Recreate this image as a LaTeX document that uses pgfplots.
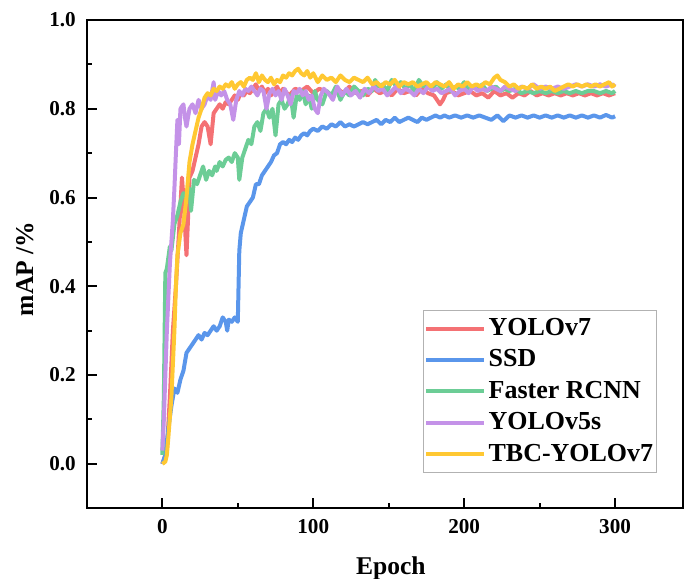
\documentclass[border=0pt]{standalone}
\usepackage{fontspec}
\setmainfont{Liberation Serif}
\usepackage{pgfplots}
\pgfplotsset{compat=1.18}

\definecolor{cred}{RGB}{244,113,116}
\definecolor{cblue}{RGB}{90,150,235}
\definecolor{cgreen}{RGB}{108,205,150}
\definecolor{cpurple}{RGB}{196,146,232}
\definecolor{cyellow}{RGB}{255,200,50}

\begin{document}
\begin{tikzpicture}
\begin{axis}[
scale only axis,
width=298.5pt, height=244.5pt,
xmin=-50, xmax=345,
ymin=-0.1, ymax=1.0,
xtick={0,100,200,300},
ytick={0,0.2,0.4,0.6,0.8,1.0},
minor x tick num=1,
minor y tick num=1,
tick align=inside,
xtick pos=bottom, ytick pos=left,
major tick length=5pt,
minor tick length=2.5pt,
axis line style={line width=1pt},
every tick/.style={black, line width=1pt},
/pgf/number format/assume math mode=true,
ticklabel style={font=\fontsize{10.6}{12}\selectfont\bfseries},
yticklabel style={xshift=-2pt, /pgf/number format/.cd, fixed, fixed zerofill, precision=1},
xticklabel style={yshift=-2.3pt},
xlabel={Epoch},
ylabel={mAP /\%},
label style={font=\fontsize{12.8}{15}\selectfont\bfseries},
xlabel style={at={(axis description cs:0.51,-0.135)}, anchor=base},
ylabel style={at={(axis description cs:-0.104,0.49)}, anchor=center},
every axis plot/.append style={line width=2pt, line join=round, mark=none},
legend style={at={(rel axis cs:0.9564,0.407)}, anchor=north east,
  draw=black!30, line width=0.5pt,
  font=\fontsize{13}{15}\selectfont\bfseries,
  nodes={inner xsep=1.2pt, inner ysep=1.2pt}, row sep=3.2pt, inner xsep=0.5pt, inner ysep=3pt},
legend cell align=left,
legend image code/.code={\draw[#1] (0pt,0pt) -- (29pt,0pt);},
]
% YOLOv7
\addplot[cred] coordinates {
(0,0.0)(1,0.01)(3,0.03)(5,0.15)(7,0.30)(9,0.40)(11,0.52)(13,0.645)(14,0.60)(16,0.47)(17,0.55)(18,0.645)
(20,0.66)(22,0.69)(24,0.72)(26,0.76)(28,0.77)(30,0.76)(32,0.72)(34,0.79)(36,0.80)(38,0.81)(40,0.80)
(42,0.815)(44,0.81)(46,0.82)(48,0.83)(50,0.82)(52,0.835)(54,0.83)(56,0.84)(58,0.835)(60,0.845)(62,0.855)
(64,0.84)(66,0.85)(68,0.835)(70,0.845)(72,0.83)(74,0.84)(76,0.85)(78,0.835)(80,0.845)(84,0.83)(88,0.845)
(92,0.84)(96,0.85)(100,0.835)(104,0.845)(108,0.84)(112,0.83)(116,0.845)(120,0.835)(124,0.85)(128,0.835)
(132,0.84)(136,0.83)(140,0.845)(144,0.835)(148,0.84)(152,0.83)(156,0.845)(160,0.835)(164,0.84)(168,0.83)
(172,0.845)(176,0.835)(180,0.83)(184,0.81)(186,0.82)(188,0.835)(192,0.84)(196,0.83)(200,0.835)(204,0.84)
(208,0.83)(212,0.835)(216,0.825)(220,0.84)(224,0.83)(228,0.835)(232,0.825)(236,0.835)(240,0.83)(244,0.84)
(248,0.83)(252,0.835)(256,0.83)(260,0.835)(264,0.83)(268,0.835)(272,0.83)(276,0.835)(280,0.83)(284,0.835)
(288,0.83)(292,0.835)(296,0.83)(300,0.835)
};
\addlegendentry{YOLOv7}
% SSD
\addplot[cblue] coordinates {
(0,0.00)(2,0.02)(4,0.08)(6,0.13)(8,0.17)(10,0.16)(12,0.19)(14,0.21)(16,0.25)(18,0.26)(20,0.27)(22,0.28)
(24,0.29)(26,0.28)(28,0.295)(30,0.29)(32,0.30)(34,0.31)(36,0.30)(38,0.31)(40,0.33)(42,0.32)(43,0.30)
(44,0.325)(46,0.32)(48,0.33)(50,0.32)(51,0.48)(52,0.52)(54,0.55)(56,0.58)(58,0.59)(60,0.60)(62,0.63)
(64,0.63)(66,0.65)(68,0.66)(70,0.67)(72,0.68)(74,0.695)(76,0.70)(78,0.72)(80,0.725)(82,0.72)(84,0.73)
(86,0.725)(88,0.735)(90,0.73)(92,0.74)(94,0.745)(96,0.74)(98,0.75)(100,0.755)(103,0.75)(106,0.76)
(109,0.755)(112,0.765)(115,0.76)(118,0.77)(121,0.76)(124,0.765)(127,0.76)(130,0.765)(133,0.77)(136,0.765)
(139,0.77)(142,0.775)(145,0.765)(148,0.775)(151,0.77)(154,0.78)(157,0.77)(160,0.775)(163,0.78)(166,0.775)
(169,0.77)(172,0.78)(175,0.775)(178,0.78)(181,0.785)(184,0.78)(187,0.785)(190,0.78)(194,0.785)(198,0.78)
(202,0.785)(206,0.78)(210,0.785)(214,0.78)(218,0.775)(222,0.785)(226,0.772)(230,0.785)(234,0.78)(238,0.785)
(242,0.78)(246,0.785)(250,0.78)(254,0.785)(258,0.78)(262,0.785)(266,0.78)(270,0.785)(274,0.78)(278,0.785)
(282,0.78)(286,0.785)(290,0.78)(294,0.786)(298,0.78)(300,0.783)
};
\addlegendentry{SSD}
% Faster RCNN
\addplot[cgreen] coordinates {
(0,0.02)(1,0.15)(2,0.43)(3,0.44)(5,0.49)(6,0.48)(8,0.54)(10,0.56)(12,0.59)(14,0.61)(16,0.60)(18,0.62)
(19,0.57)(21,0.64)(23,0.63)(25,0.65)(27,0.67)(29,0.64)(31,0.66)(33,0.65)(35,0.67)(36,0.66)(38,0.68)
(40,0.67)(42,0.685)(44,0.69)(46,0.68)(48,0.70)(50,0.69)(51,0.64)(53,0.69)(55,0.71)(57,0.73)(59,0.72)
(61,0.76)(63,0.77)(65,0.75)(67,0.79)(69,0.80)(71,0.78)(73,0.80)(75,0.74)(77,0.81)(79,0.82)(81,0.80)
(83,0.81)(85,0.83)(87,0.78)(89,0.83)(91,0.82)(93,0.84)(95,0.81)(97,0.83)(99,0.80)(101,0.84)(103,0.82)
(106,0.81)(109,0.84)(112,0.83)(115,0.85)(118,0.82)(121,0.84)(124,0.83)(127,0.85)(130,0.84)(133,0.83)
(136,0.845)(139,0.84)(141,0.865)(143,0.85)(146,0.855)(149,0.84)(152,0.865)(155,0.85)(158,0.86)(161,0.845)
(164,0.855)(167,0.84)(170,0.865)(173,0.85)(176,0.855)(179,0.845)(182,0.86)(185,0.845)(188,0.855)(191,0.84)
(194,0.85)(197,0.845)(200,0.86)(203,0.84)(206,0.85)(209,0.845)(212,0.855)(215,0.84)(218,0.845)(221,0.85)
(224,0.84)(227,0.845)(230,0.84)(234,0.845)(238,0.835)(242,0.84)(246,0.835)(250,0.84)(254,0.835)(258,0.84)
(262,0.835)(266,0.84)(270,0.835)(274,0.84)(278,0.835)(282,0.84)(286,0.84)(290,0.835)(294,0.84)(298,0.835)
(300,0.84)
};
\addlegendentry{Faster RCNN}
% YOLOv5s
\addplot[cpurple] coordinates {
(0,0.03)(1,0.10)(3,0.30)(5,0.45)(7,0.55)(8,0.62)(9,0.70)(10,0.775)(11,0.72)(12,0.80)(14,0.81)(15,0.78)
(16,0.76)(18,0.80)(20,0.81)(22,0.79)(24,0.82)(26,0.80)(28,0.81)(30,0.83)(32,0.82)(34,0.86)(35,0.82)
(37,0.84)(39,0.83)(41,0.84)(43,0.82)(45,0.81)(47,0.775)(49,0.82)(51,0.84)(53,0.83)(55,0.845)(57,0.84)
(59,0.85)(61,0.84)(63,0.83)(65,0.845)(67,0.84)(69,0.80)(71,0.835)(73,0.845)(75,0.83)(77,0.84)(79,0.82)
(81,0.845)(83,0.83)(85,0.81)(87,0.84)(89,0.835)(91,0.845)(93,0.83)(95,0.84)(97,0.82)(99,0.83)(101,0.80)
(103,0.79)(105,0.83)(107,0.845)(110,0.835)(113,0.82)(116,0.85)(119,0.83)(122,0.845)(125,0.83)(128,0.84)
(131,0.825)(134,0.845)(137,0.835)(140,0.85)(143,0.84)(146,0.845)(149,0.83)(152,0.84)(155,0.85)(158,0.835)
(161,0.845)(164,0.84)(167,0.83)(170,0.845)(173,0.835)(176,0.85)(179,0.84)(182,0.845)(185,0.835)(188,0.84)
(191,0.845)(194,0.83)(197,0.84)(200,0.845)(203,0.835)(206,0.85)(209,0.84)(212,0.845)(215,0.84)(218,0.85)
(221,0.845)(224,0.84)(227,0.85)(230,0.845)(234,0.84)(238,0.85)(242,0.845)(246,0.855)(250,0.845)(254,0.85)
(258,0.845)(262,0.85)(266,0.845)(270,0.85)(274,0.855)(278,0.85)(282,0.855)(286,0.85)(290,0.855)(294,0.85)
(298,0.855)(300,0.85)
};
\addlegendentry{YOLOv5s}
% TBC-YOLOv7
\addplot[cyellow] coordinates {
(0,0.0)(2,0.005)(3,0.02)(4,0.06)(6,0.15)(8,0.30)(9,0.40)(10,0.47)(12,0.52)(14,0.54)(16,0.60)(18,0.68)
(20,0.72)(22,0.75)(24,0.78)(26,0.80)(28,0.825)(30,0.835)(32,0.83)(34,0.845)(36,0.84)(38,0.85)(40,0.845)
(42,0.855)(44,0.85)(46,0.86)(48,0.845)(50,0.855)(52,0.86)(54,0.85)(56,0.865)(58,0.87)(60,0.865)(62,0.88)
(64,0.86)(66,0.875)(68,0.865)(70,0.86)(72,0.87)(74,0.855)(76,0.865)(78,0.86)(80,0.875)(82,0.87)(84,0.88)
(86,0.875)(88,0.885)(90,0.89)(92,0.88)(94,0.875)(96,0.885)(98,0.87)(100,0.88)(103,0.86)(106,0.875)
(109,0.865)(112,0.87)(115,0.86)(118,0.875)(121,0.865)(124,0.86)(127,0.87)(130,0.865)(133,0.86)(136,0.87)
(139,0.855)(142,0.86)(145,0.85)(148,0.86)(151,0.855)(154,0.865)(157,0.85)(160,0.86)(163,0.855)(166,0.86)
(169,0.85)(172,0.855)(175,0.86)(178,0.85)(181,0.86)(184,0.855)(187,0.85)(190,0.86)(193,0.845)(196,0.855)
(199,0.85)(202,0.86)(205,0.85)(208,0.855)(211,0.85)(214,0.86)(217,0.855)(220,0.87)(222,0.875)(224,0.865)
(227,0.86)(230,0.85)(233,0.855)(236,0.845)(239,0.85)(242,0.845)(245,0.855)(248,0.845)(251,0.85)(254,0.845)
(257,0.85)(260,0.84)(263,0.845)(266,0.85)(269,0.855)(272,0.85)(275,0.855)(278,0.85)(281,0.855)(284,0.85)
(287,0.855)(290,0.85)(293,0.855)(296,0.86)(298,0.85)(300,0.855)
};
\addlegendentry{TBC-YOLOv7}
\end{axis}
\pgfresetboundingbox
\path ([xshift=-43.5pt,yshift=-35pt]current axis.south west) rectangle ([xshift=0.5pt,yshift=10pt]current axis.north east);
\end{tikzpicture}
\end{document}
